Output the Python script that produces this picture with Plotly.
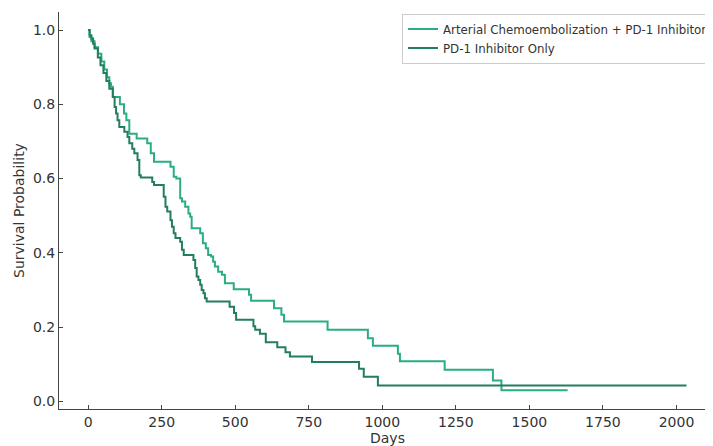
import plotly.graph_objects as go

# Kaplan-Meier step data
combo_name = "Arterial Chemoembolization + PD-1 Inhibitor"
combo_days = [0, 5, 11, 22, 34, 45, 55, 64, 72, 78, 84, 108, 122, 130, 140, 165, 201, 213, 224,
              280, 291, 300, 313, 319, 330, 341, 347, 352, 381, 390, 400, 408, 418, 425, 431,
              442, 455, 465, 495, 547, 554, 632, 657, 666, 814, 951, 968, 1053, 1060, 1212,
              1376, 1405, 1630]
combo_surv = [1.0, 0.981, 0.970, 0.954, 0.936, 0.915, 0.894, 0.873, 0.857, 0.847, 0.820, 0.800,
              0.775, 0.757, 0.721, 0.708, 0.695, 0.668, 0.645, 0.632, 0.605, 0.600, 0.547,
              0.538, 0.524, 0.506, 0.497, 0.466, 0.453, 0.426, 0.412, 0.394, 0.390, 0.376,
              0.363, 0.349, 0.341, 0.318, 0.302, 0.287, 0.271, 0.251, 0.233, 0.215, 0.193,
              0.170, 0.150, 0.128, 0.108, 0.085, 0.056, 0.030, 0.030]

pd1_name = "PD-1 Inhibitor Only"
pd1_days = [0, 5, 11, 17, 22, 33, 42, 52, 62, 72, 84, 90, 95, 100, 106, 123, 134, 140, 150, 157,
            168, 174, 179, 218, 224, 257, 263, 269, 280, 285, 291, 297, 313, 319, 325, 358, 364,
            369, 375, 381, 386, 392, 397, 403, 481, 496, 503, 562, 568, 584, 604, 643, 671, 686,
            761, 921, 937, 985, 2034]
pd1_surv = [1.0, 0.986, 0.977, 0.963, 0.950, 0.926, 0.905, 0.884, 0.863, 0.842, 0.820, 0.793,
            0.775, 0.757, 0.739, 0.726, 0.712, 0.695, 0.680, 0.668, 0.650, 0.609, 0.603, 0.591,
            0.583, 0.551, 0.524, 0.511, 0.488, 0.470, 0.453, 0.440, 0.430, 0.408, 0.394, 0.381,
            0.359, 0.336, 0.327, 0.314, 0.300, 0.291, 0.278, 0.269, 0.255, 0.238, 0.220, 0.202,
            0.193, 0.182, 0.159, 0.146, 0.132, 0.121, 0.106, 0.088, 0.066, 0.043, 0.043]

x_ticks = [0, 250, 500, 750, 1000, 1250, 1500, 1750, 2000]
y_ticks = [0.0, 0.2, 0.4, 0.6, 0.8, 1.0]
y_tick_labels = ["0.0", "0.2", "0.4", "0.6", "0.8", "1.0"]
x_title = "Days"
y_title = "Survival Probability"

combo_color = "#2aad86"
pd1_color = "#237d5f"
font_family = "DejaVu Sans, Arial, sans-serif"

fig = go.Figure()
fig.add_trace(go.Scatter(x=combo_days, y=combo_surv, mode="lines", name=combo_name,
                         line=dict(shape="hv", color=combo_color, width=2)))
fig.add_trace(go.Scatter(x=pd1_days, y=pd1_surv, mode="lines", name=pd1_name,
                         line=dict(shape="hv", color=pd1_color, width=2)))

axis_common = dict(showgrid=False, zeroline=False, showline=True, linecolor="#444",
                   linewidth=1, ticks="inside", ticklen=4, tickwidth=1, tickcolor="#444",
                   automargin=False,
                   tickfont=dict(size=14, color="#333", family=font_family))

# the page body has an 8px margin, so the figure is 8px smaller than the window
fig.update_layout(
    width=705, height=438,
    margin=dict(l=51, r=0, t=4, b=37),
    paper_bgcolor="white", plot_bgcolor="white",
    font=dict(family=font_family, color="#333"),
    xaxis=dict(range=[-99, 2097], tickvals=x_ticks, **axis_common),
    yaxis=dict(range=[-0.0206, 1.0486], tickvals=y_ticks, ticktext=y_tick_labels,
               **axis_common),
    legend=dict(x=0.531, y=0.996, xanchor="left", yanchor="top", bgcolor="white",
                bordercolor="#cccccc", borderwidth=1, font=dict(size=11.8, color="#333"),
                itemwidth=30, tracegroupgap=0),
    showlegend=True,
    annotations=[
        dict(text=x_title, xref="paper", yref="paper", x=0.5087, y=0, yshift=-29,
             xanchor="center", yanchor="middle", showarrow=False,
             font=dict(size=14, color="#333", family=font_family)),
        dict(text=y_title, xref="paper", yref="paper", x=-0.0627, y=0.5,
             xanchor="center", yanchor="middle", textangle=-90, showarrow=False,
             font=dict(size=14, color="#333", family=font_family)),
    ],
)

fig.write_html("out.html")
